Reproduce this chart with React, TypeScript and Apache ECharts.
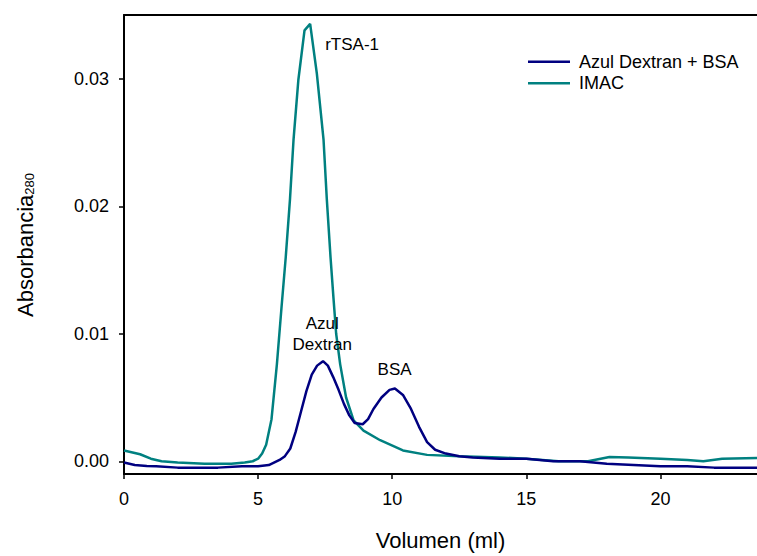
import React, { useEffect, useRef } from "react";
import * as echarts from "echarts";

const seriesNames = ["Azul Dextran + BSA", "IMAC"];

const azulBsa: [number, number][] = [
  [0, -0.0001], [0.4, -0.0003], [0.85, -0.00037], [1.2, -0.0004], [2.0, -0.0005], [2.6, -0.0005],
  [3.5, -0.0005], [4.4, -0.0004], [5.0, -0.0004], [5.4, -0.0003], [5.8, 0.0001], [6.0, 0.0004],
  [6.2, 0.001], [6.4, 0.0023], [6.6, 0.0039], [6.8, 0.0055], [7.0, 0.0068], [7.2, 0.0075],
  [7.42, 0.00785], [7.6, 0.0075], [7.8, 0.0066], [8.0, 0.0056], [8.2, 0.0045], [8.4, 0.0036],
  [8.6, 0.003], [8.9, 0.0029], [9.1, 0.0033], [9.3, 0.0041], [9.6, 0.005], [9.9, 0.0056],
  [10.1, 0.0057], [10.4, 0.0052], [10.7, 0.0041], [11.0, 0.0027], [11.3, 0.0015], [11.6, 0.0009],
  [12.0, 0.0006], [12.5, 0.0004], [13, 0.0003], [14, 0.0002], [15, 0.0002], [16, 0.0],
  [17, 0.0], [18, -0.0002], [19, -0.0003], [20, -0.0004], [21, -0.0004], [22, -0.0005], [23.6, -0.0005],
];

const imac: [number, number][] = [
  [0, 0.00085], [0.6, 0.00055], [1.0, 0.0002], [1.4, 0.0], [2.0, -0.0001], [3.0, -0.0002],
  [4.0, -0.0002], [4.5, -0.0001], [4.8, 0.0], [5.0, 0.0002], [5.15, 0.0006], [5.3, 0.0013],
  [5.5, 0.0033], [5.7, 0.0076], [5.87, 0.012], [6.03, 0.016], [6.19, 0.0206], [6.32, 0.0252],
  [6.5, 0.0299], [6.73, 0.0338], [6.94, 0.0343], [7.19, 0.0304], [7.44, 0.0252], [7.56, 0.0206],
  [7.7, 0.016], [7.81, 0.0128], [7.91, 0.01], [8.06, 0.0076], [8.28, 0.005], [8.56, 0.0032],
  [8.93, 0.0024], [9.55, 0.00165], [10.4, 0.00085], [11.3, 0.0005], [12.5, 0.0004], [14, 0.0003],
  [15, 0.0002], [16.2, 0.0], [17.3, 0.0], [18.1, 0.00033], [18.8, 0.0003], [20, 0.0002],
  [21, 0.0001], [21.6, 0.0], [22.3, 0.0002], [23.6, 0.00025],
];

const annotations: [number, number, string][] = [
  [7.5, 0.03268, "rTSA-1"],
  [7.39, 0.00998, "Azul\nDextran"],
  [10.09, 0.0072, "BSA"],
];

const xTicks = [0, 5, 10, 15, 20];
const yTicks = [0, 0.01, 0.02, 0.03];

const FONT = "Liberation Sans, Arial, sans-serif";

export default function App() {
  const ref = useRef<HTMLDivElement>(null);
  useEffect(() => {
    if (!ref.current) return;
    const chart = echarts.init(ref.current, null, { renderer: "svg" });
    chart.setOption({
      animation: false,
      backgroundColor: "#ffffff",
      textStyle: { fontFamily: FONT },
      grid: { left: 124, right: 0, top: 15, bottom: 79 },
      legend: {
        data: seriesNames.map((n) => ({ name: n, icon: "rect" })),
        orient: "vertical",
        left: 528,
        top: 52.7,
        padding: 0,
        itemWidth: 42,
        itemHeight: 2.5,
        itemGap: 3.6,
        textStyle: { fontSize: 18, color: "#000", fontFamily: FONT, padding: [0, 0, 0, 4] },
      },
      xAxis: [
        {
          type: "value",
          min: 0,
          max: 23.6,
          interval: 5,
          position: "bottom",
          splitLine: { show: false },
          axisLine: { onZero: false, lineStyle: { color: "#000", width: 2 } },
          axisTick: { customValues: xTicks, length: 5, lineStyle: { color: "#000", width: 1.5 } },
          axisLabel: {
            customValues: xTicks,
            fontSize: 18,
            color: "#000",
            margin: 16,
            fontFamily: FONT,
          },
          name: "Volumen (ml)",
          nameLocation: "middle",
          nameGap: 55,
          nameTextStyle: { fontSize: 22, color: "#000", fontFamily: FONT },
        },
        {
          type: "value",
          min: 0,
          max: 23.6,
          position: "top",
          splitLine: { show: false },
          axisLine: { show: true, onZero: false, lineStyle: { color: "#000", width: 2 } },
          axisTick: { show: false },
          axisLabel: { show: false },
        },
      ],
      yAxis: {
        type: "value",
        min: -0.001,
        max: 0.035,
        splitLine: { show: false },
        axisLine: { show: true, onZero: false, lineStyle: { color: "#000", width: 2 } },
        axisTick: { customValues: yTicks, length: 5, lineStyle: { color: "#000", width: 1.5 } },
        axisLabel: {
          customValues: yTicks,
          fontSize: 18,
          color: "#000",
          margin: 15,
          fontFamily: FONT,
          formatter: (v: number) => v.toFixed(2),
        },
      },
      graphic: [
        {
          type: "text",
          x: 25,
          y: 245,
          rotation: Math.PI / 2,
          style: {
            text: "{a|Absorbancia}{s|280}",
            align: "center",
            verticalAlign: "middle",
            fontFamily: FONT,
            rich: {
              a: { fontSize: 22, lineHeight: 22, verticalAlign: "top", fill: "#000", fontFamily: FONT },
              s: { fontSize: 13, lineHeight: 14, padding: [12, 0, 0, 0], verticalAlign: "bottom", fill: "#000", fontFamily: FONT },
            },
          },
        },
      ],
      series: [
        {
          name: seriesNames[0],
          type: "line",
          data: azulBsa,
          symbol: "none",
          lineStyle: { color: "#000080", width: 2.5 },
          itemStyle: { color: "#000080" },
          z: 3,
        },
        {
          name: seriesNames[1],
          type: "line",
          data: imac,
          symbol: "none",
          lineStyle: { color: "#008080", width: 2.5 },
          itemStyle: { color: "#008080" },
          z: 2,
        },
        {
          name: "annotations",
          type: "scatter",
          data: annotations.map((a, i) =>
            i === 0
              ? { value: [a[0], a[1]], name: a[2], label: { position: "right", distance: 0 } }
              : { value: [a[0], a[1]], name: a[2] }
          ),
          symbolSize: 0,
          silent: true,
          z: 5,
          itemStyle: { opacity: 1, color: "#000" },
          label: {
            show: true,
            formatter: (p: any) => p.name,
            position: "inside",
            fontSize: 17,
            lineHeight: 21,
            color: "#000",
            opacity: 1,
            textBorderWidth: 0,
            textBorderColor: "transparent",
            fontFamily: FONT,
          },
        },
      ],
    });
    return () => chart.dispose();
  }, []);
  return <div ref={ref} style={{ width: 757, height: 556, position: "absolute", left: 0, top: 0 }} />;
}
